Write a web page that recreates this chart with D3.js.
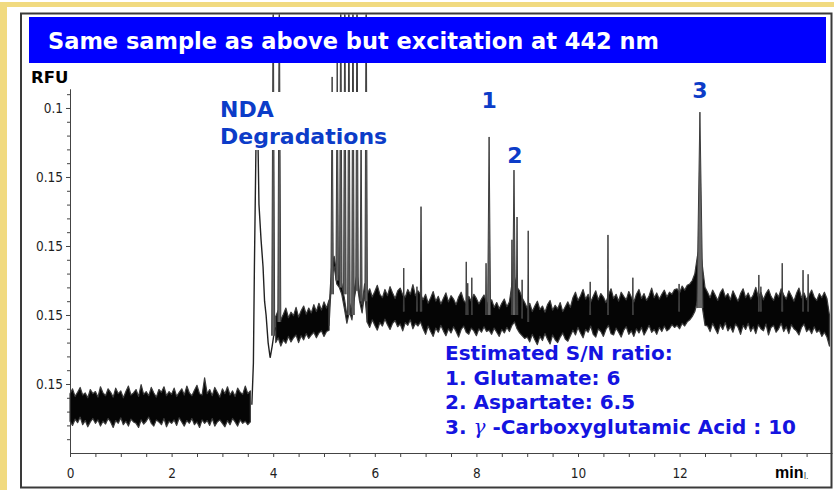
<!DOCTYPE html>
<html>
<head>
<meta charset="utf-8">
<script src="https://cdnjs.cloudflare.com/ajax/libs/d3/7.8.5/d3.min.js"></script>
<style>
    html, body { margin: 0; padding: 0; background: #fff; }
    svg { display: block; }
    .axis text { font-family: "Liberation Sans Narrow", "DejaVu Sans Condensed", "Roboto Condensed", sans-serif; font-size: 13.5px; fill: #1e1e1e; }
    .axis path, .axis line { stroke: #444; }
    .blue { font-family: "DejaVu Sans", Verdana, sans-serif; font-weight: bold; }
</style>
</head>
<body>
<div id="chart"></div>
<script>
"use strict";

// ****************** data ******************
// time in minutes, signal in units of one labelled y tick
let xTickValues = [0, 2, 4, 6, 8, 10, 12];
let xTickLabels = ["0", "2", "4", "6", "8", "10", "12"];
let yTickValues = [1, 2, 3, 4, 5];
let yTickLabels = ["0.15", "0.15", "0.15", "0.15", "0.1"];

// baseline noise band, sampled every 0.05 min
let sampleStep = 0.05;

// segment A : 0 - 3.55 min
let startA = 0;
let hiA = [0.86,0.93,0.82,0.88,0.95,0.84,0.87,0.80,0.92,0.86,
           0.89,0.81,0.96,0.87,0.83,0.93,0.88,0.81,0.94,0.86,
           0.90,0.80,0.89,0.97,0.84,0.87,0.92,0.82,0.99,0.85,
           0.89,0.83,0.95,0.87,0.81,0.92,0.88,0.96,0.83,0.89,
           0.85,0.94,0.82,0.88,0.93,0.84,0.97,0.87,0.83,0.91,
           0.98,0.86,0.84,1.09,0.86,0.92,0.83,0.95,0.88,0.81,
           0.93,0.86,0.96,0.84,0.90,0.82,0.94,0.88,0.85,0.97,
           0.86,0.90];
let loA = [0.46,0.40,0.49,0.44,0.52,0.41,0.47,0.38,0.45,0.50,
           0.43,0.48,0.39,0.46,0.42,0.50,0.45,0.37,0.47,0.43,
           0.51,0.41,0.46,0.39,0.49,0.45,0.43,0.37,0.48,0.42,
           0.46,0.52,0.43,0.39,0.48,0.45,0.41,0.50,0.38,0.46,
           0.43,0.48,0.40,0.51,0.45,0.39,0.47,0.43,0.50,0.41,
           0.45,0.37,0.48,0.43,0.47,0.40,0.50,0.39,0.45,0.48,
           0.43,0.38,0.47,0.41,0.50,0.45,0.39,0.48,0.43,0.46,
           0.41,0.45];

// injection front 3.58 - 4.05 min
let riseT = [3.58, 3.61, 3.63, 3.66, 3.69, 3.72, 3.76, 3.80, 3.83, 3.86, 3.90, 3.94, 3.98, 4.02, 4.05];
let riseV = [0.70, 1.30, 2.70, 4.40, 5.00, 3.60, 3.10, 2.70, 2.20, 2.00, 1.60, 1.38, 1.55, 1.75, 1.82];

// segment B : 4.05 - 5.10 min
let startB = 4.05;
let hiB = [1.98,2.07,1.93,2.01,2.10,1.96,2.04,1.99,2.11,1.97,2.06,2.13,2.01,2.10,2.03,2.15,2.05,2.17,2.07,2.19,2.10,2.22];
let loB = [1.60,1.67,1.55,1.64,1.59,1.69,1.61,1.67,1.71,1.60,1.70,1.64,1.73,1.66,1.71,1.75,1.67,1.74,1.77,1.69,1.76,1.78];

// segment C : 5.10 - 5.85 min, floor between the degradation peaks
let startC = 5.10;
let hiC = [2.10,2.70,2.85,2.60,2.55,2.45,2.25,2.00,2.18,2.05,2.38,2.60,2.32,2.15,2.45,2.30];
let loC = [1.85,2.55,2.70,2.45,2.40,2.30,2.10,1.88,2.05,1.93,2.25,2.46,2.20,2.03,2.32,1.90];

// segment D : 5.85 - 14.95 min
let startD = 5.85;
let hiD = [2.30,2.38,2.26,2.34,2.43,2.30,2.25,2.37,2.28,2.41,2.32,2.24,2.35,2.39,2.29,2.26,2.37,2.30,2.44,2.28,2.35,2.30,
           2.22,2.30,2.17,2.25,2.34,2.20,2.27,2.16,2.24,2.32,2.19,2.28,2.23,2.15,2.26,2.33,2.21,2.17,2.27,2.20,2.30,2.24,2.16,2.23,2.29,2.19,
           2.14,2.22,2.11,2.18,2.09,2.17,2.23,2.12,2.19,
           2.45,2.55,2.40,2.35,2.25,2.18,
           2.10,2.17,2.05,2.13,2.20,2.08,2.13,2.04,2.15,2.21,2.07,2.14,2.09,2.18,2.05,2.12,2.19,2.11,
           2.25,2.33,2.21,2.28,2.37,2.23,2.30,2.19,2.27,2.35,
           2.22,2.31,2.26,2.18,2.29,2.38,2.24,2.30,2.20,2.33,
           2.27,2.22,2.34,2.26,2.19,2.30,2.37,2.24,2.31,2.21,
           2.28,2.39,2.25,2.32,2.23,2.30,2.36,2.26,2.33,2.30,
           2.37,
           2.38,2.32,2.42,2.36,2.43,2.45,2.50,2.60,2.85,
           3.00,2.70,2.40,
           2.33,2.25,2.36,2.29,2.21,2.32,2.38,2.26,2.31,2.22,
           2.35,2.27,2.20,2.31,2.38,2.25,2.32,2.23,2.29,2.40,
           2.26,2.33,2.22,2.31,2.37,2.27,2.21,2.32,2.26,2.38,
           2.29,2.23,2.35,2.28,2.20,2.31,2.39,2.25,2.32,2.22,
           2.29,2.36,2.26,2.21,2.31,2.25,2.33,2.24,
           2.00];
let loD = [1.90,1.82,1.93,1.85,1.78,1.89,1.84,1.94,1.86,1.79,1.88,1.92,1.83,1.87,1.77,1.89,1.85,1.93,1.80,1.88,1.84,1.90,
           1.80,1.72,1.84,1.76,1.69,1.81,1.75,1.85,1.77,1.70,1.80,1.74,1.83,1.76,1.68,1.79,1.84,1.75,1.72,1.81,1.77,1.70,1.80,1.75,1.83,1.76,
           1.78,1.72,1.81,1.75,1.69,1.79,1.74,1.82,1.76,
           1.85,1.90,1.80,1.74,1.70,1.66,
           1.68,1.61,1.72,1.64,1.57,1.69,1.63,1.73,1.65,1.58,1.71,1.64,1.60,1.68,1.74,1.65,1.62,1.70,
           1.78,1.71,1.82,1.74,1.67,1.79,1.75,1.84,1.72,1.68,
           1.80,1.76,1.69,1.79,1.85,1.73,1.71,1.81,1.75,1.68,
           1.78,1.83,1.72,1.77,1.69,1.80,1.74,1.82,1.71,1.78,
           1.85,1.75,1.79,1.72,1.82,1.76,1.84,1.77,1.80,1.86,
           1.82,
           1.85,1.80,1.88,1.84,1.90,1.93,1.98,2.05,2.20,
           2.30,2.10,1.85,
           1.84,1.76,1.88,1.80,1.73,1.86,1.79,1.89,1.77,1.83,
           1.75,1.87,1.82,1.72,1.85,1.79,1.88,1.76,1.83,1.73,
           1.86,1.80,1.77,1.87,1.71,1.82,1.85,1.75,1.80,1.88,
           1.76,1.83,1.73,1.86,1.80,1.77,1.71,1.82,1.87,1.76,
           1.80,1.73,1.83,1.75,1.78,1.69,1.75,1.68,
           1.55];

// narrow peaks : apex time, apex height, half width at base (min), base level
let peakT = [4.00, 4.12, 5.16, 5.26, 5.33, 5.41, 5.49, 5.57, 5.65, 5.73, 5.83,
             6.57, 6.83, 6.91, 7.80, 7.83, 7.91, 8.19, 8.25, 8.70, 8.74, 8.80, 8.90, 9.02,
             10.24, 10.59, 11.08, 11.99, 12.40, 13.56, 13.60, 14.02, 14.43, 14.53];
let peakTop = [7, 7, 5.45, 5.70, 7, 7, 7, 7, 7, 4.80, 7,
               2.68, 2.41, 3.57, 2.77, 2.46, 2.54, 2.75, 4.58, 3.09, 4.10, 3.42, 2.51, 3.22,
               2.48, 3.16, 2.54, 2.45, 4.94, 2.58, 2.41, 2.75, 2.65, 2.59];
let peakHalfW = [0.03, 0.03, 0.025, 0.025, 0.025, 0.025, 0.025, 0.025, 0.025, 0.02, 0.025,
                 0.008, 0.008, 0.015, 0.008, 0.008, 0.008, 0.01, 0.03, 0.012, 0.03, 0.015, 0.008, 0.01,
                 0.008, 0.01, 0.008, 0.008, 0.06, 0.008, 0.008, 0.01, 0.008, 0.008];
let peakBase = [1.70, 1.90, 2.30, 2.50, 2.40, 2.30, 2.00, 2.00, 2.35, 2.20, 2.20,
                2.05, 2.05, 2.05, 2.00, 2.00, 2.00, 2.00, 2.00, 2.00, 2.00, 2.00, 1.95, 1.90,
                2.00, 2.00, 2.00, 2.05, 2.10, 2.05, 2.05, 2.05, 2.05, 2.05];

// peak numbers and annotation text
let peakLabels = ["1", "2", "3"];
let peakLabelT = [8.25, 8.76, 12.40];
let peakLabelV = [5.0, 4.2, 5.15];
let titleText = "Same sample as above but excitation at 442 nm";
let ndaLines = ["NDA", "Degradations"];
let snLines = ["Estimated S/N ratio:", "1. Glutamate: 6", "2. Aspartate: 6.5"];
let snLast = ["3. ", "\u03b3", " -Carboxyglutamic Acid : 10"];

(function () {

    let width = 834, height = 490;

    let x = d3.scaleLinear().domain([0, 15]).range([70, 832]);
    let y = d3.scaleLinear().domain([0, 5.275]).range([453, 89]);

    let svg = d3.select("#chart").append("svg")
        .attr("width", width)
        .attr("height", height);

    // slide decoration
    svg.append("rect").attr("x", 0).attr("y", 2).attr("width", width).attr("height", 5).attr("fill", "#f1da80");
    svg.append("rect").attr("x", 0).attr("y", 2).attr("width", 7).attr("height", height - 2).attr("fill", "#f1da80");

    svg.append("defs").append("clipPath").attr("id", "plotClip")
        .append("rect").attr("x", 22).attr("y", 14.5).attr("width", 809).attr("height", 472);

    // ****************** axes ******************
    let xMinor = x.ticks(30).filter(d => d < 14.9);
    let xAxis = d3.axisBottom(x)
        .tickValues(xMinor)
        .tickFormat(function (d) {
            let k = xTickValues.indexOf(d);
            return k >= 0 ? xTickLabels[k] : "";
        })
        .tickSize(4)
        .tickPadding(11)
        .tickSizeOuter(0);

    svg.append("g").attr("class", "axis")
        .attr("transform", "translate(0," + y(0) + ")")
        .call(xAxis);

    let yAxis = d3.axisLeft(y)
        .tickValues(yTickValues)
        .tickFormat((d, i) => yTickLabels[i])
        .tickSize(4)
        .tickPadding(3)
        .tickSizeOuter(0);

    let yMinor = d3.axisLeft(y)
        .tickValues(y.ticks(24).filter(d => d % 1 !== 0 && d > 0))
        .tickFormat("")
        .tickSize(3)
        .tickSizeOuter(0);

    svg.append("g").attr("class", "axis")
        .attr("transform", "translate(" + x(0) + ",0)")
        .call(yMinor);
    svg.append("g").attr("class", "axis")
        .attr("transform", "translate(" + x(0) + ",0)")
        .call(yAxis);

    // ****************** trace ******************
    let trace = svg.append("g").attr("clip-path", "url(#plotClip)");

    function segment(start, lo, hi) {
        return lo.map(function (v, i) {
            return {t: start + i * sampleStep, lo: v, hi: hi[i]};
        });
    }

    let band = d3.area()
        .x(d => x(d.t))
        .y0(d => y(d.lo))
        .y1(d => y(d.hi));

    [segment(startA, loA, hiA), segment(startB, loB, hiB),
     segment(startC, loC, hiC), segment(startD, loD, hiD)].forEach(function (seg) {
        trace.append("path")
            .attr("d", band(seg))
            .attr("fill", "#050505")
            .attr("stroke", "#3a3a3a")
            .attr("stroke-width", 1.2)
            .attr("stroke-linejoin", "round");
    });

    let rise = d3.line().x(d => x(d[0])).y(d => y(d[1]));
    trace.append("path")
        .attr("d", rise(riseT.map((t, i) => [t, riseV[i]])))
        .attr("fill", "none")
        .attr("stroke", "#222")
        .attr("stroke-width", 1.4);

    peakT.forEach(function (t, i) {
        let w = peakHalfW[i];
        trace.append("path")
            .attr("d", "M" + x(t - w) + "," + y(peakBase[i]) +
                "L" + x(t) + "," + y(peakTop[i]) +
                "L" + x(t + w) + "," + y(peakBase[i]))
            .attr("fill", "#666")
            .attr("stroke", "#3c3c3c")
            .attr("stroke-width", 1);
    });

    // frame round the picture
    svg.append("rect")
        .attr("x", 21).attr("y", 13.5)
        .attr("width", 810.5).attr("height", 474)
        .attr("fill", "none")
        .attr("stroke", "#3a3a3a")
        .attr("stroke-width", 2);

    // ****************** labels ******************
    svg.append("rect")
        .attr("x", 29).attr("y", 17).attr("width", 797).attr("height", 46)
        .attr("fill", "#0000ff");
    svg.append("text").attr("class", "blue")
        .attr("x", 48).attr("y", 49)
        .attr("font-size", 22.5)
        .attr("fill", "#fff")
        .text(titleText);

    svg.append("text")
        .attr("x", 31).attr("y", 83)
        .attr("font-family", "DejaVu Sans, sans-serif")
        .attr("font-weight", "bold")
        .attr("font-size", 16.5)
        .attr("fill", "#000")
        .text("RFU");

    svg.append("rect")
        .attr("x", 215).attr("y", 92).attr("width", 178).attr("height", 58)
        .attr("fill", "#fff");
    svg.append("text").attr("class", "blue")
        .attr("font-size", 22)
        .attr("fill", "#0c3cc8")
        .selectAll("tspan").data(ndaLines).enter().append("tspan")
        .attr("x", 220)
        .attr("y", (d, i) => 117 + i * 27)
        .text(d => d);

    svg.selectAll("text.peak").data(peakLabels).enter().append("text")
        .attr("class", "blue peak")
        .attr("x", (d, i) => x(peakLabelT[i]))
        .attr("y", (d, i) => y(peakLabelV[i]))
        .attr("text-anchor", "middle")
        .attr("font-size", 22)
        .attr("fill", "#0c3cc8")
        .text(d => d);

    let sn = svg.append("g").attr("class", "blue")
        .attr("font-size", 20)
        .attr("fill", "#1414e0");
    sn.selectAll("text").data(snLines).enter().append("text")
        .attr("x", 445)
        .attr("y", (d, i) => 360 + i * 24.6)
        .text(d => d);
    let last = sn.append("text").attr("x", 445).attr("y", 360 + 3 * 24.6);
    last.append("tspan").text(snLast[0]);
    last.append("tspan")
        .attr("font-family", "DejaVu Serif, Liberation Serif, serif")
        .attr("font-style", "italic")
        .attr("font-weight", "normal")
        .text(snLast[1]);
    last.append("tspan").text(snLast[2]);

    svg.append("text")
        .attr("x", 775).attr("y", 478)
        .attr("font-family", "Liberation Sans, Arial, sans-serif")
        .attr("font-weight", "bold")
        .attr("font-size", 16)
        .attr("fill", "#000")
        .text("min");
    svg.append("text")
        .attr("x", 804).attr("y", 479)
        .attr("font-family", "Liberation Sans, Arial, sans-serif")
        .attr("font-size", 9)
        .attr("fill", "#333")
        .text("l.");

})();
</script>
</body>
</html>
